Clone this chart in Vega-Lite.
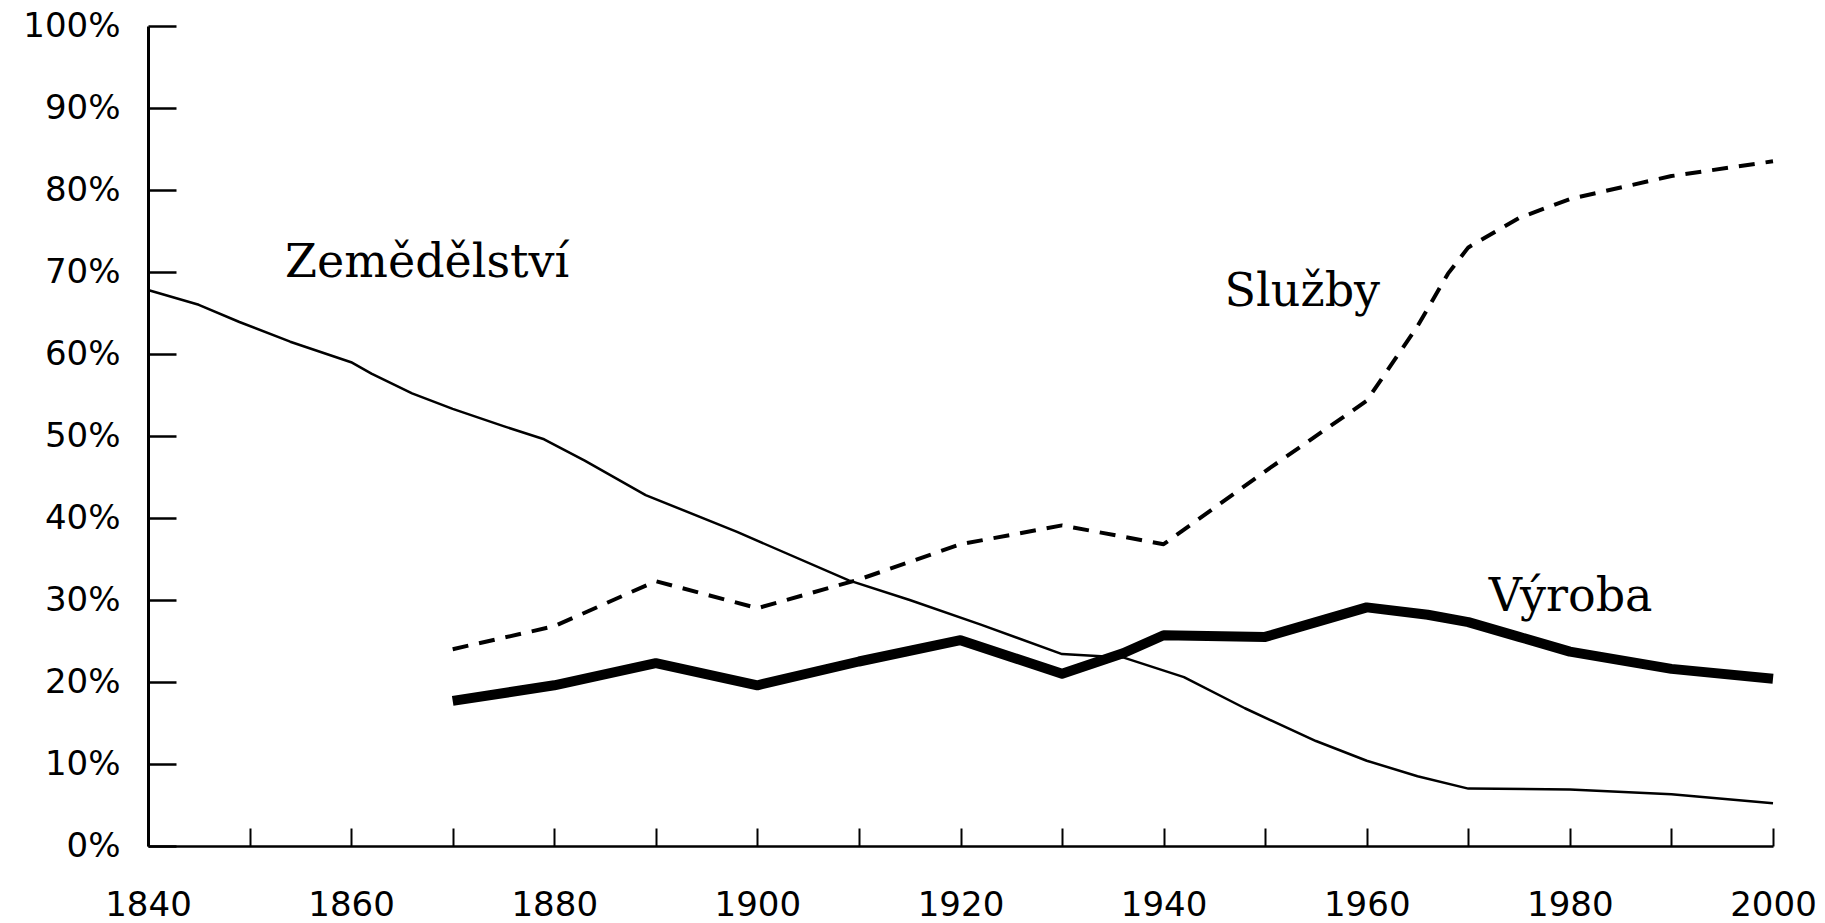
{
  "$schema": "https://vega.github.io/schema/vega-lite/v6.json",
  "width": 1625,
  "height": 820,
  "autosize": "none",
  "padding": {"left": 148, "top": 26, "right": 52, "bottom": 77},
  "background": "white",
  "config": {"view": {"stroke": null}},
  "datasets": {
    "series": [
      {"s": "Zemědělství", "year": 1840, "pct": 67.8},
      {"s": "Zemědělství", "year": 1845, "pct": 66.0},
      {"s": "Zemědělství", "year": 1849, "pct": 63.9},
      {"s": "Zemědělství", "year": 1854, "pct": 61.5},
      {"s": "Zemědělství", "year": 1860, "pct": 59.0},
      {"s": "Zemědělství", "year": 1862, "pct": 57.6},
      {"s": "Zemědělství", "year": 1866, "pct": 55.2},
      {"s": "Zemědělství", "year": 1870, "pct": 53.3},
      {"s": "Zemědělství", "year": 1875, "pct": 51.2},
      {"s": "Zemědělství", "year": 1879, "pct": 49.6},
      {"s": "Zemědělství", "year": 1883, "pct": 47.0},
      {"s": "Zemědělství", "year": 1889, "pct": 42.8},
      {"s": "Zemědělství", "year": 1898, "pct": 38.3},
      {"s": "Zemědělství", "year": 1909, "pct": 32.4},
      {"s": "Zemědělství", "year": 1915, "pct": 30.0},
      {"s": "Zemědělství", "year": 1922, "pct": 27.0},
      {"s": "Zemědělství", "year": 1930, "pct": 23.4},
      {"s": "Zemědělství", "year": 1936, "pct": 23.0},
      {"s": "Zemědělství", "year": 1942, "pct": 20.6},
      {"s": "Zemědělství", "year": 1948, "pct": 16.8},
      {"s": "Zemědělství", "year": 1955, "pct": 12.8},
      {"s": "Zemědělství", "year": 1960, "pct": 10.4},
      {"s": "Zemědělství", "year": 1965, "pct": 8.5},
      {"s": "Zemědělství", "year": 1970, "pct": 7.0},
      {"s": "Zemědělství", "year": 1980, "pct": 6.9},
      {"s": "Zemědělství", "year": 1990, "pct": 6.3},
      {"s": "Zemědělství", "year": 2000, "pct": 5.2},
      {"s": "Služby", "year": 1870, "pct": 24.0},
      {"s": "Služby", "year": 1880, "pct": 26.8},
      {"s": "Služby", "year": 1890, "pct": 32.3},
      {"s": "Služby", "year": 1900, "pct": 29.0},
      {"s": "Služby", "year": 1910, "pct": 32.5},
      {"s": "Služby", "year": 1920, "pct": 36.8},
      {"s": "Služby", "year": 1930, "pct": 39.1},
      {"s": "Služby", "year": 1940, "pct": 36.8},
      {"s": "Služby", "year": 1950, "pct": 45.7},
      {"s": "Služby", "year": 1960, "pct": 54.3},
      {"s": "Služby", "year": 1965, "pct": 63.4},
      {"s": "Služby", "year": 1968, "pct": 69.8},
      {"s": "Služby", "year": 1970, "pct": 73.0},
      {"s": "Služby", "year": 1975, "pct": 76.6},
      {"s": "Služby", "year": 1980, "pct": 78.9},
      {"s": "Služby", "year": 1990, "pct": 81.7},
      {"s": "Služby", "year": 2000, "pct": 83.5},
      {"s": "Výroba", "year": 1870, "pct": 17.7},
      {"s": "Výroba", "year": 1880, "pct": 19.6},
      {"s": "Výroba", "year": 1890, "pct": 22.3},
      {"s": "Výroba", "year": 1900, "pct": 19.6},
      {"s": "Výroba", "year": 1910, "pct": 22.5},
      {"s": "Výroba", "year": 1920, "pct": 25.1},
      {"s": "Výroba", "year": 1930, "pct": 21.0},
      {"s": "Výroba", "year": 1936, "pct": 23.5},
      {"s": "Výroba", "year": 1940, "pct": 25.7},
      {"s": "Výroba", "year": 1950, "pct": 25.5},
      {"s": "Výroba", "year": 1960, "pct": 29.1},
      {"s": "Výroba", "year": 1966, "pct": 28.2},
      {"s": "Výroba", "year": 1970, "pct": 27.3},
      {"s": "Výroba", "year": 1975, "pct": 25.5},
      {"s": "Výroba", "year": 1980, "pct": 23.7},
      {"s": "Výroba", "year": 1990, "pct": 21.6},
      {"s": "Výroba", "year": 2000, "pct": 20.4}
    ],
    "labels": [
      {"label": "Zemědělství", "year": 1853.5, "pct": 69.4},
      {"label": "Služby", "year": 1946.0, "pct": 65.9},
      {"label": "Výroba", "year": 1972.0, "pct": 28.7}
    ]
  },
  "encoding": {
    "x": {
      "field": "year",
      "type": "quantitative",
      "scale": {"domain": [1840, 2000], "nice": false, "zero": false},
      "axis": {
        "title": null,
        "values": [1840, 1850, 1860, 1870, 1880, 1890, 1900, 1910, 1920, 1930, 1940, 1950, 1960, 1970, 1980, 1990, 2000],
        "labelExpr": "datum.value % 20 == 0 ? datum.value : ''",
        "format": "d",
        "grid": false,
        "domainColor": "#000",
        "domainWidth": 2.5,
        "tickColor": "#000",
        "tickWidth": 2,
        "tickSize": -18,
        "labelPadding": 60,
        "labelFont": "DejaVu Sans",
        "labelFontSize": 34,
        "labelColor": "#000",
        "labelFlush": false
      }
    },
    "y": {
      "field": "pct",
      "type": "quantitative",
      "scale": {"domain": [0, 100], "nice": false},
      "axis": {
        "title": null,
        "values": [0, 10, 20, 30, 40, 50, 60, 70, 80, 90, 100],
        "labelExpr": "datum.value + '%'",
        "grid": false,
        "domainColor": "#000",
        "domainWidth": 3,
        "tickColor": "#000",
        "tickWidth": 2.5,
        "tickSize": -28,
        "labelPadding": 56,
        "labelFont": "DejaVu Sans",
        "labelFontSize": 34,
        "labelColor": "#000",
        "labelFlush": false
      }
    }
  },
  "layer": [
    {
      "data": {"name": "series"},
      "transform": [{"filter": "datum.s == 'Zemědělství'"}],
      "mark": {"type": "line", "color": "#000", "strokeWidth": 2.5, "strokeJoin": "round"}
    },
    {
      "data": {"name": "series"},
      "transform": [{"filter": "datum.s == 'Služby'"}],
      "mark": {"type": "line", "color": "#000", "strokeWidth": 4, "strokeDash": [16, 11], "strokeJoin": "round"}
    },
    {
      "data": {"name": "series"},
      "transform": [{"filter": "datum.s == 'Výroba'"}],
      "mark": {"type": "line", "color": "#000", "strokeWidth": 10, "strokeJoin": "round"}
    },
    {
      "data": {"name": "labels"},
      "mark": {"type": "text", "align": "left", "baseline": "alphabetic", "font": "DejaVu Serif", "fontSize": 46, "color": "#000"},
      "encoding": {"text": {"field": "label"}}
    }
  ]
}
